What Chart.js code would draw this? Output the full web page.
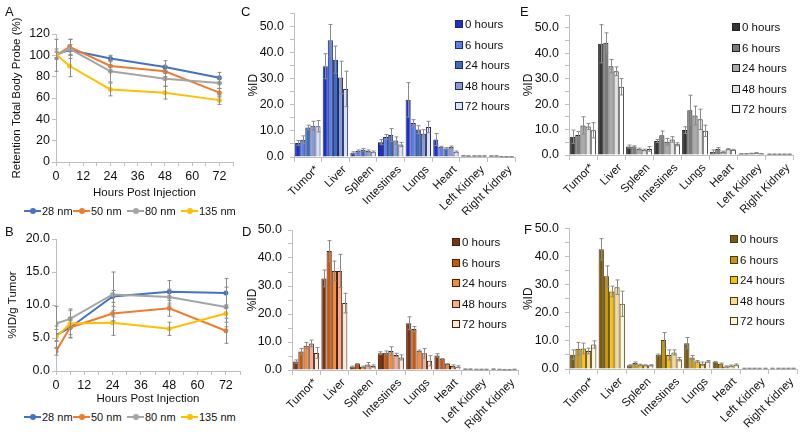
<!DOCTYPE html>
<html>
<head>
<meta charset="utf-8">
<script src="https://cdn.jsdelivr.net/npm/chart.js@4.4.1/dist/chart.umd.min.js"></script>
<style>
  body { margin: 0; background: #fff; font-family: "Liberation Sans", Arial, sans-serif; color: #111; }
  #wrap { position: relative; width: 800px; height: 435px; overflow: hidden; }
  .box { position: absolute; }
  .tag { position: absolute; font-size: 13px; line-height: 13px; }
  .lg { position: absolute; font-size: 11.5px; line-height: 12px; white-space: nowrap; }
  .sw { display: inline-block; width: 6px; height: 6px; border: 1px solid #333; margin-right: 2px; vertical-align: 0px; }
  .ln { display: inline-block; position: relative; width: 17px; height: 2px; vertical-align: 3px; margin-right: 1px; }
  .ln i { position: absolute; left: 6px; top: -2px; width: 6px; height: 6px; border-radius: 3px; }
</style>
</head>
<body>
<div id="wrap">
  <div class="box" style="left:0;top:0;width:262px;height:200px"><canvas id="chartA"></canvas></div>
  <div class="box" style="left:0;top:215px;width:262px;height:191px"><canvas id="chartB"></canvas></div>
  <div class="box" style="left:240px;top:0;width:285px;height:215px"><canvas id="chartC"></canvas></div>
  <div class="box" style="left:240px;top:215px;width:285px;height:220px"><canvas id="chartD"></canvas></div>
  <div class="box" style="left:520px;top:0;width:280px;height:215px"><canvas id="chartE"></canvas></div>
  <div class="box" style="left:520px;top:215px;width:280px;height:220px"><canvas id="chartF"></canvas></div>
  <div class="tag" style="left:5px;top:5px">A</div>
  <div class="tag" style="left:5px;top:225px">B</div>
  <div class="tag" style="left:241px;top:5px">C</div>
  <div class="tag" style="left:242px;top:225px">D</div>
  <div class="tag" style="left:520px;top:5px">E</div>
  <div class="tag" style="left:524px;top:223px">F</div>
</div>
<script>
// panels A and B
const hours = [0, 6, 24, 48, 72];
const sizes = ['28 nm', '50 nm', '80 nm', '135 nm'];

const retention28 = [101, 105, 97, 89, 79];
const retention50 = [100, 108, 90, 85, 65];
const retention80 = [100, 106, 85, 78, 74];
const retention135 = [101, 90, 68, 65, 58];
const retentionErr28 = [3, 5, 3, 6, 5];
const retentionErr50 = [3, 7, 5, 5, 4];
const retentionErr80 = [15, 9, 10, 7, 5];
const retentionErr135 = [5, 10, 6, 6, 4];

const tumor28 = [5.4, 6.6, 11.3, 12.0, 11.8];
const tumor50 = [3.0, 6.6, 8.7, 9.5, 6.1];
const tumor80 = [7.2, 7.9, 11.6, 11.2, 9.7];
const tumor135 = [5.1, 7.2, 7.3, 6.4, 8.7];
const tumorErr28 = [0.9, 1.5, 0.9, 1.7, 2.2];
const tumorErr50 = [0.6, 1.1, 1.1, 1.2, 1.9];
const tumorErr80 = [2.6, 1.3, 3.4, 1.2, 3.0];
const tumorErr135 = [1.7, 2.2, 1.9, 1.0, 1.3];

// panels C-F
const organs = ['Tumor*', 'Liver', 'Spleen', 'Intestines', 'Lungs', 'Heart', 'Left Kidney', 'Right Kidney'];
const timepoints = ['0 hours', '6 hours', '24 hours', '48 hours', '72 hours'];

const c0 = [5.4, 34.8, 1.6, 5.7, 21.9, 6.7, 0.5, 0.4];
const c6 = [6.6, 44.7, 2.3, 7.7, 13.0, 3.8, 0.4, 0.4];
const c24 = [11.3, 37.3, 2.7, 8.4, 10.5, 3.3, 0.4, 0.1];
const c48 = [12.0, 30.5, 2.3, 6.3, 8.9, 3.8, 0.4, 0.1];
const c72 = [11.8, 26.1, 2.0, 4.8, 11.5, 2.0, 0.4, 0.1];
const cErr0 = [0.9, 4.8, 0.4, 1.0, 6.6, 2.3, 0.1, 0.1];
const cErr6 = [1.5, 6.1, 0.4, 0.9, 1.3, 0.3, 0.1, 0.1];
const cErr24 = [0.9, 5.2, 0.5, 2.5, 1.5, 0.3, 0.1, 0.1];
const cErr48 = [1.7, 6.2, 0.4, 1.4, 1.6, 0.4, 0.1, 0.1];
const cErr72 = [2.2, 6.8, 0.3, 0.8, 2.2, 0.3, 0.1, 0.1];

const d0 = [3.0, 32.7, 1.2, 6.0, 16.7, 5.2, 0.3, 0.3];
const d6 = [6.6, 42.5, 2.1, 6.2, 14.6, 3.9, 0.3, 0.2];
const d24 = [8.7, 35.4, 1.2, 6.8, 6.8, 2.1, 0.2, 0.1];
const d48 = [9.5, 35.4, 2.0, 5.4, 6.0, 1.4, 0.2, 0.1];
const d72 = [6.1, 23.9, 1.4, 4.5, 3.3, 1.2, 0.2, 0.2];
const dErr0 = [0.6, 3.0, 0.2, 0.5, 2.3, 0.6, 0.1, 0.1];
const dErr6 = [1.1, 3.7, 0.2, 0.6, 0.9, 0.2, 0.1, 0.1];
const dErr24 = [1.1, 3.5, 0.2, 1.5, 0.3, 0.2, 0.1, 0.1];
const dErr48 = [1.2, 5.9, 0.7, 0.6, 1.7, 0.4, 0.1, 0.1];
const dErr72 = [1.9, 3.5, 0.4, 0.9, 1.8, 0.3, 0.1, 0.1];

const e0 = [7.2, 43.7, 3.3, 5.5, 9.8, 1.3, 0.5, 0.3];
const e6 = [7.9, 44.1, 3.3, 7.8, 17.6, 2.4, 0.5, 0.3];
const e24 = [11.6, 34.9, 2.4, 5.2, 15.5, 1.3, 0.6, 0.3];
const e48 = [11.2, 32.9, 2.0, 6.1, 14.0, 2.3, 0.8, 0.3];
const e72 = [9.7, 26.8, 2.4, 4.2, 9.5, 2.0, 0.5, 0.3];
const eErr0 = [2.6, 7.5, 0.6, 0.6, 1.3, 0.7, 0.1, 0.1];
const eErr6 = [1.3, 3.9, 0.3, 1.6, 5.9, 0.5, 0.1, 0.1];
const eErr24 = [3.4, 2.6, 0.3, 1.3, 3.7, 0.2, 0.1, 0.1];
const eErr48 = [1.2, 1.7, 0.3, 1.1, 4.0, 0.2, 0.2, 0.1];
const eErr72 = [3.0, 3.2, 0.9, 0.6, 2.2, 0.2, 0.1, 0.1];

const f0 = [5.1, 42.6, 1.3, 5.0, 9.2, 2.5, 0.2, 0.2];
const f6 = [7.2, 33.0, 2.1, 10.3, 4.1, 1.9, 0.2, 0.2];
const f24 = [7.3, 27.6, 1.5, 5.0, 2.7, 0.9, 0.2, 0.2];
const f48 = [6.4, 29.1, 1.3, 5.9, 1.9, 1.2, 0.2, 0.2];
const f72 = [8.7, 23.2, 1.3, 3.5, 2.7, 1.5, 0.2, 0.2];
const fErr0 = [1.7, 3.8, 0.2, 0.3, 2.0, 0.2, 0.1, 0.1];
const fErr6 = [2.2, 3.7, 0.4, 2.7, 0.7, 0.2, 0.1, 0.1];
const fErr24 = [1.9, 1.9, 0.2, 1.8, 0.3, 0.2, 0.1, 0.1];
const fErr48 = [1.0, 2.6, 0.2, 0.9, 0.6, 0.2, 0.1, 0.1];
const fErr72 = [1.3, 4.5, 0.2, 0.6, 0.3, 0.3, 0.1, 0.1];

const lineColors = ['#4472c4', '#ed7d31', '#a5a5a5', '#ffc000'];
const blues = ['#1a2fd0', '#5a7ef0', '#3b6cc0', '#8b9bd2', '#d9e1f6'];
const oranges = ['#7a3411', '#c9580f', '#f28a3c', '#f4ab8f', '#fbe9dd'];
const grays = ['#363636', '#7a7a7a', '#ababab', '#e3e3e3', '#ffffff'];
const golds = ['#7b5a12', '#c7950f', '#f7c10a', '#f8da8e', '#fdf6de'];

Chart.defaults.font.family = '"Liberation Sans", Arial, sans-serif';
Chart.defaults.color = '#111';
Chart.defaults.animation = false;

const axisGray = '#bfbfbf';

// draws +/- error whiskers from each dataset's errors array
const errorBars = {
  id: 'errorBars',
  afterDatasetsDraw(chart) {
    const ctx = chart.ctx;
    const yScale = chart.scales.y;
    chart.data.datasets.forEach((ds, i) => {
      if (!ds.errors) return;
      const meta = chart.getDatasetMeta(i);
      ctx.save();
      ctx.strokeStyle = '#8a8a8a';
      ctx.lineWidth = 1;
      meta.data.forEach((el, j) => {
        const raw = ds.data[j];
        const v = typeof raw === 'object' ? raw.y : raw;
        const e = ds.errors[j];
        const top = yScale.getPixelForValue(v + e);
        const bot = yScale.getPixelForValue(Math.max(v - e, 0));
        const x = Math.round(el.x) + 0.5;
        ctx.beginPath();
        ctx.moveTo(x, top); ctx.lineTo(x, bot);
        ctx.moveTo(x - 2, top); ctx.lineTo(x + 2, top);
        ctx.moveTo(x - 2, bot); ctx.lineTo(x + 2, bot);
        ctx.stroke();
      });
      ctx.restore();
    });
  }
};

function makeLine(id, series, errs, o) {
  new Chart(document.getElementById(id), {
    type: 'line',
    data: {
      datasets: series.map((vals, i) => ({
        label: sizes[i],
        data: hours.map((h, j) => ({ x: h, y: vals[j] })),
        errors: errs[i],
        order: series.length - i,
        borderColor: lineColors[i],
        backgroundColor: lineColors[i],
        borderWidth: 2,
        pointRadius: 2.5,
        pointBorderWidth: 0,
        tension: 0
      }))
    },
    options: {
      responsive: true,
      maintainAspectRatio: false,
      layout: { padding: o.padding },
      plugins: { legend: { display: false }, tooltip: { enabled: false } },
      scales: {
        x: {
          type: 'linear', min: 0, max: 78,
          afterFit: s => { s.height = o.xh; },
          grid: { drawOnChartArea: false, color: axisGray, tickLength: 4 },
          border: { color: axisGray },
          ticks: {
            stepSize: 6, autoSkip: false, maxRotation: 0, padding: 3, font: { size: 12.5 },
            callback: v => (v % 12 === 0 && v <= 72) ? v : ''
          },
          title: { display: true, text: 'Hours Post Injection', font: { size: 11.5 }, padding: 0 }
        },
        y: {
          min: 0, max: o.max,
          afterFit: s => { s.width = o.yw; },
          grid: { drawOnChartArea: false, color: axisGray, tickLength: 4 },
          border: { color: axisGray },
          ticks: { stepSize: o.step, autoSkip: false, padding: 2, font: { size: 12.5 }, callback: o.fmt },
          title: { display: true, text: o.title, font: { size: 11.5 }, padding: 0 }
        }
      }
    },
    plugins: [errorBars]
  });
}

function makeBar(id, series, errs, colors, edge, o) {
  new Chart(document.getElementById(id), {
    type: 'bar',
    data: {
      labels: organs,
      datasets: series.map((vals, i) => ({
        label: timepoints[i],
        data: vals,
        errors: errs[i],
        backgroundColor: colors[i],
        borderColor: edge,
        borderWidth: 1,
        categoryPercentage: 0.92,
        barPercentage: 1.0
      }))
    },
    options: {
      responsive: true,
      maintainAspectRatio: false,
      layout: { padding: o.padding },
      plugins: { legend: { display: false }, tooltip: { enabled: false } },
      scales: {
        x: {
          afterFit: s => { s.height = o.xh; },
          grid: { offset: true, drawOnChartArea: false, color: axisGray, tickLength: 5 },
          border: { color: axisGray },
          ticks: { autoSkip: false, minRotation: 45, maxRotation: 45, padding: 1, labelOffset: 9, font: { size: 11.5 } }
        },
        y: {
          min: 0, max: o.max,
          afterFit: s => { s.width = o.yw; },
          grid: { drawOnChartArea: false, color: axisGray, tickLength: 4 },
          border: { color: axisGray },
          ticks: { stepSize: 5, autoSkip: false, padding: 6, font: { size: 12.5 }, callback: v => v % 10 === 0 ? v.toFixed(1) : '' },
          title: { display: true, text: '%ID', font: { size: 12 }, padding: { top: o.tp, bottom: 0 } }
        }
      }
    },
    plugins: [errorBars]
  });
}

function lineLegend(top) {
  const lefts = [24, 73, 127, 181];
  sizes.forEach((s, i) => {
    const d = document.createElement('div');
    d.className = 'lg';
    d.style.left = lefts[i] + 'px';
    d.style.top = (top - 6) + 'px';
    d.style.fontSize = '11px';
    d.innerHTML = '<span class="ln" style="background:' + lineColors[i] + '"><i style="background:' + lineColors[i] + '"></i></span>' + s;
    document.getElementById('wrap').appendChild(d);
  });
}

function barLegend(left, top, colors, edge) {
  timepoints.forEach((t, i) => {
    const d = document.createElement('div');
    d.className = 'lg';
    d.style.left = left + 'px';
    d.style.top = (top + i * 20.5 - 6) + 'px';
    d.innerHTML = '<span class="sw" style="background:' + colors[i] + ';border-color:' + edge + '"></span>' + t;
    document.getElementById('wrap').appendChild(d);
  });
}

makeLine('chartA',
  [retention28, retention50, retention80, retention135],
  [retentionErr28, retentionErr50, retentionErr80, retentionErr135],
  { padding: { left: 10, top: 34, right: 29, bottom: 0 }, yw: 46, xh: 38, max: 120, step: 20,
    fmt: v => v, title: 'Retention Total Body Probe (%)' });

makeLine('chartB',
  [tumor28, tumor50, tumor80, tumor135],
  [tumorErr28, tumorErr50, tumorErr80, tumorErr135],
  { padding: { left: 6, top: 24, right: 22, bottom: 0 }, yw: 50, xh: 35, max: 20, step: 5,
    fmt: v => v.toFixed(1), title: '%ID/g Tumor' });

makeBar('chartC', [c0, c6, c24, c48, c72], [cErr0, cErr6, cErr24, cErr48, cErr72], blues, '#1f2b66',
  { padding: { left: 0, top: 12, right: 10, bottom: 0 }, yw: 54, xh: 58, max: 55, tp: 6 });
makeBar('chartD', [d0, d6, d24, d48, d72], [dErr0, dErr6, dErr24, dErr48, dErr72], oranges, '#4a200a',
  { padding: { left: 0, top: 15, right: 7, bottom: 0 }, yw: 52, xh: 65, max: 50, tp: 5 });
makeBar('chartE', [e0, e6, e24, e48, e72], [eErr0, eErr6, eErr24, eErr48, eErr72], grays, '#222222',
  { padding: { left: 0, top: 15, right: 7, bottom: 0 }, yw: 49, xh: 60, max: 55, tp: 1 });
makeBar('chartF', [f0, f6, f24, f48, f72], [fErr0, fErr6, fErr24, fErr48, fErr72], golds, '#4a3a08',
  { padding: { left: 0, top: 12, right: 3, bottom: 0 }, yw: 49, xh: 66, max: 50, tp: 1 });

lineLegend(211);
lineLegend(417);
barLegend(455, 24, blues, '#1f2b66');
barLegend(452, 242, oranges, '#4a200a');
barLegend(732, 27, grays, '#222222');
barLegend(730, 239, golds, '#4a3a08');
</script>
</body>
</html>
